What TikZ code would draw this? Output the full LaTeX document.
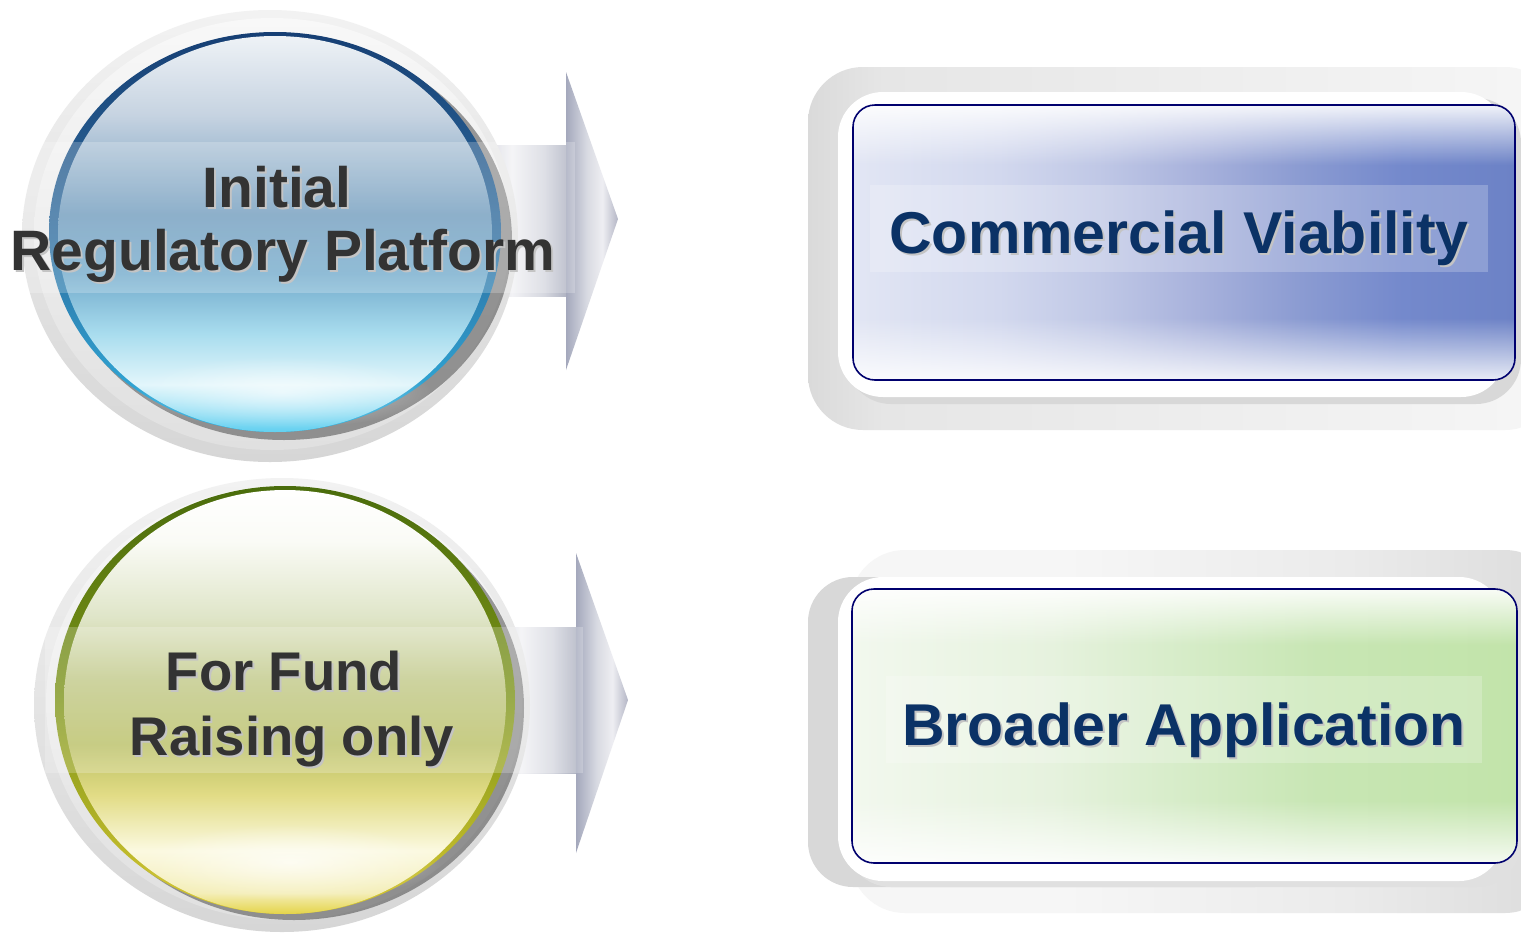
\documentclass[tikz,border=0pt]{standalone}
\usepackage{fontspec}
\setmainfont{Liberation Sans}
\usetikzlibrary{fadings}
\definecolor{textgrey}{HTML}{333333}
\definecolor{shadowgrey}{HTML}{C4C4C4}
\definecolor{navytext}{HTML}{0B3266}
\definecolor{boxborder}{HTML}{00006E}
% blue sphere
\definecolor{bb1}{HTML}{2FB4E2}\definecolor{bb2}{HTML}{2F6C9E}\definecolor{bb3}{HTML}{163F74}
\definecolor{bw1}{HTML}{62D0F0}\definecolor{bw2}{HTML}{E2F6FB}\definecolor{bw3}{HTML}{A8DCEE}
\definecolor{bw4}{HTML}{72AACB}\definecolor{bw5}{HTML}{6E9ABC}\definecolor{bw6}{HTML}{C6D3E1}\definecolor{bw7}{HTML}{EEF2F6}
% green sphere
\definecolor{gb1}{HTML}{D8C832}\definecolor{gb2}{HTML}{7D9418}\definecolor{gb3}{HTML}{4A6C0C}
\definecolor{gw1}{HTML}{E4D448}\definecolor{gw2}{HTML}{F4EEB8}\definecolor{gw3}{HTML}{FBF9E0}
\definecolor{gw4}{HTML}{E2DC86}\definecolor{gw5}{HTML}{B8BE62}\definecolor{gw6}{HTML}{BFC784}
\definecolor{gw7}{HTML}{DFE5C8}\definecolor{gw8}{HTML}{FAFBF6}
% arrows
\definecolor{ar1}{HTML}{C4C6D2}\definecolor{ar2}{HTML}{F2F2F5}\definecolor{ar3}{HTML}{D6D8E0}\definecolor{ar4}{HTML}{A2A6B8}
\definecolor{ah1}{HTML}{A4A8BC}\definecolor{ah2}{HTML}{D8DAE2}\definecolor{ah3}{HTML}{EEEEF2}\definecolor{ah4}{HTML}{B4B6C6}
% boxes
\definecolor{bx1}{HTML}{E2E6F4}\definecolor{bx2}{HTML}{D2D8EE}\definecolor{bx3}{HTML}{C0C8E6}
\definecolor{bx4}{HTML}{A8B2DC}\definecolor{bx5}{HTML}{8C9CD2}\definecolor{bx6}{HTML}{7489CC}\definecolor{bx7}{HTML}{6C82C6}
\definecolor{gx1}{HTML}{F2F8EE}\definecolor{gx2}{HTML}{E6F2DE}\definecolor{gx3}{HTML}{D6ECC8}
\definecolor{gx4}{HTML}{C8E6B4}\definecolor{gx5}{HTML}{C2E4AA}
\definecolor{fr1}{HTML}{DADADA}\definecolor{fr2}{HTML}{E6E6E6}\definecolor{fr3}{HTML}{F6F6F6}
\definecolor{fs1}{HTML}{D8D8D8}\definecolor{fs2}{HTML}{F6F6F6}\definecolor{fs3}{HTML}{EBEBEB}\definecolor{fs4}{HTML}{DCDCDC}
\definecolor{bz1}{HTML}{D6D6D6}\definecolor{bz2}{HTML}{F2F2F2}
\definecolor{bzi1}{HTML}{E0E0E0}\definecolor{bzi2}{HTML}{F8F8F8}

\pgfdeclareverticalshading{bluebase}{100bp}{color(0bp)=(bb1); color(25bp)=(bb1); color(50bp)=(bb2); color(75bp)=(bb3); color(100bp)=(bb3)}
\pgfdeclareverticalshading{bluebody}{100bp}{color(0bp)=(bw1); color(25bp)=(bw1); color(31bp)=(bw2); color(37.5bp)=(bw3); color(45bp)=(bw4); color(52.5bp)=(bw5); color(65bp)=(bw6); color(75bp)=(bw7); color(100bp)=(bw7)}
\pgfdeclareverticalshading{greenbase}{100bp}{color(0bp)=(gb1); color(25bp)=(gb1); color(50bp)=(gb2); color(75bp)=(gb3); color(100bp)=(gb3)}
\pgfdeclareverticalshading{greenbody}{100bp}{color(0bp)=(gw1); color(25bp)=(gw1); color(27.5bp)=(gw2); color(32.5bp)=(gw3); color(39bp)=(gw4); color(45bp)=(gw5); color(52.5bp)=(gw6); color(60bp)=(gw7); color(69bp)=(gw8); color(75bp)=(white); color(100bp)=(white)}
\pgfdeclareverticalshading{bezel}{100bp}{color(0bp)=(bz1); color(25bp)=(bz1); color(75bp)=(bz2); color(100bp)=(bz2)}
\pgfdeclareverticalshading{bezelin}{100bp}{color(0bp)=(bzi1); color(25bp)=(bzi1); color(75bp)=(bzi2); color(100bp)=(bzi2)}
\pgfdeclarehorizontalshading{shaft}{100bp}{color(0bp)=(ar1); color(25bp)=(ar1); color(45bp)=(ar2); color(60bp)=(ar3); color(75bp)=(ar4); color(100bp)=(ar4)}
\pgfdeclarehorizontalshading{head}{100bp}{color(0bp)=(ah1); color(25bp)=(ah1); color(45bp)=(ah2); color(60bp)=(ah3); color(75bp)=(ah4); color(100bp)=(ah4)}
\pgfdeclarehorizontalshading{bluebox}{100bp}{color(0bp)=(bx1); color(25bp)=(bx1); color(36bp)=(bx2); color(43.5bp)=(bx3); color(51bp)=(bx4); color(58.5bp)=(bx5); color(66.5bp)=(bx6); color(75bp)=(bx7); color(100bp)=(bx7)}
\pgfdeclarehorizontalshading{greenbox}{100bp}{color(0bp)=(gx1); color(25bp)=(gx1); color(40bp)=(gx2); color(50bp)=(gx3); color(60bp)=(gx4); color(75bp)=(gx5); color(100bp)=(gx5)}
\pgfdeclarehorizontalshading{frametop}{100bp}{color(0bp)=(fr1); color(25bp)=(fr1); color(30bp)=(fr2); color(75bp)=(fr3); color(100bp)=(fr3)}
\pgfdeclarehorizontalshading{framebot}{100bp}{color(0bp)=(fs2); color(25bp)=(fs2); color(40bp)=(fs2); color(60bp)=(fs3); color(75bp)=(fs4); color(100bp)=(fs4)}

\tikzfading[name=fadedown, top color=transparent!0, bottom color=transparent!100]
\tikzfading[name=fadeup, top color=transparent!100, bottom color=transparent!0]
\tikzfading[name=glowfade, inner color=transparent!0, outer color=transparent!100]

\begin{document}
\begin{tikzpicture}[x=1pt,y=-1pt,
  lefttext/.style={font=\fontsize{57}{63}\selectfont\bfseries, text=textgrey, anchor=base, inner sep=0pt},
  smalltext/.style={font=\fontsize{54.5}{60}\selectfont\bfseries},
  righttext/.style={font=\fontsize{59}{65}\selectfont\bfseries, text=navytext, anchor=base, inner sep=0pt},
  shadowtext/.style={text=shadowgrey},
  band/.style={fill=white, fill opacity=0.22},
  boxline/.style={draw=boxborder, line width=1.6pt, rounded corners=22pt}]
\useasboundingbox (0,0) rectangle (1521,932);
\fill[white] (0,0) rectangle (1521,932);

% ================= TOP LEFT: blue sphere with arrow =================
\shade[shading=shaft] (470,145) rectangle (575,296);
\shade[shading=head] (566,72) -- (618,219) -- (566,370) -- cycle;
\shade[shading=bezel] (270,236) ellipse (248 and 226);
\shade[shading=bezelin] (272,234) ellipse (238 and 216);
\fill[black!70, opacity=0.55] (284,240) ellipse (228 and 200);
\shade[shading=bluebase] (275,232) ellipse (226 and 200);
\shade[shading=bluebody] (275,234) ellipse (217 and 198);
\fill[white, path fading=glowfade, opacity=0.6] (282,392) ellipse (150 and 36);
\fill[band] (15,142) rectangle (575,293);
\node[lefttext, shadowtext] (t1as) at (279,209) {Initial};
\node[lefttext] (t1a) at (277,207) {Initial};
\node[lefttext, shadowtext] (t1bs) at (285,272) {Regulatory Platform};
\node[lefttext] (t1b) at (283,270) {Regulatory Platform};

% ================= BOTTOM LEFT: green sphere with arrow =================
\shade[shading=shaft] (480,627) rectangle (583,773);
\shade[shading=head] (576,553) -- (628,700) -- (576,853) -- cycle;
\shade[shading=bezel] (282,705) ellipse (248 and 227);
\shade[shading=bezelin] (284,703) ellipse (238 and 217);
\fill[black!70, opacity=0.55] (294,708) ellipse (230 and 212);
\shade[shading=greenbase] (285,700) ellipse (230 and 214);
\shade[shading=greenbody] (285,702) ellipse (221 and 212);
\fill[white, path fading=glowfade, opacity=0.7] (290,862) ellipse (150 and 38);
\fill[band] (45,627) rectangle (583,773);
\node[lefttext, smalltext, shadowtext] (t2as) at (286,692) {For Fund};
\node[lefttext, smalltext] (t2a) at (284,690) {For Fund};
\node[lefttext, smalltext, shadowtext] (t2bs) at (294,757) {Raising only};
\node[lefttext, smalltext] (t2b) at (292,755) {Raising only};

% ================= TOP RIGHT: blue box =================
\shade[shading=frametop, rounded corners=55pt] (808,67) rectangle (1560,430);
\fill[fs1, rounded corners=45pt] (846,98) rectangle (1521,404);
\fill[white, rounded corners=45pt] (838,92) rectangle (1506,397);
\shade[shading=bluebox, rounded corners=22pt] (853,105) rectangle (1515,380);
\begin{scope}
  \clip[rounded corners=22pt] (853,105) rectangle (1515,380);
  \fill[white, path fading=fadedown, opacity=0.9] (853,105) rectangle (1515,165);
  \fill[white, path fading=fadeup, opacity=0.85] (853,318) rectangle (1515,380);
\end{scope}
\draw[boxline] (853,105) rectangle (1515,380);
\fill[band] (870,185) rectangle (1488,272);
\node[righttext, shadowtext] (t3s) at (1181,255) {Commercial Viability};
\node[righttext] (t3) at (1179,253) {Commercial Viability};

% ================= BOTTOM RIGHT: green box =================
\shade[shading=framebot, rounded corners=55pt] (850,550) rectangle (1560,913);
\fill[fs1, rounded corners=45pt] (808,577) rectangle (1300,887);
\fill[fs1!80, rounded corners=45pt] (846,583) rectangle (1521,887);
\fill[white, rounded corners=45pt] (838,577) rectangle (1504,881);
\shade[shading=greenbox, rounded corners=22pt] (852,589) rectangle (1517,863);
\begin{scope}
  \clip[rounded corners=22pt] (852,589) rectangle (1517,863);
  \fill[white, path fading=fadedown, opacity=0.9] (852,589) rectangle (1517,645);
  \fill[white, path fading=fadeup, opacity=0.85] (852,800) rectangle (1517,863);
\end{scope}
\draw[boxline] (852,589) rectangle (1517,863);
\fill[band] (886,676) rectangle (1482,763);
\node[righttext, shadowtext] (t4s) at (1186,747) {Broader Application};
\node[righttext] (t4) at (1184,745) {Broader Application};
\end{tikzpicture}
\end{document}
